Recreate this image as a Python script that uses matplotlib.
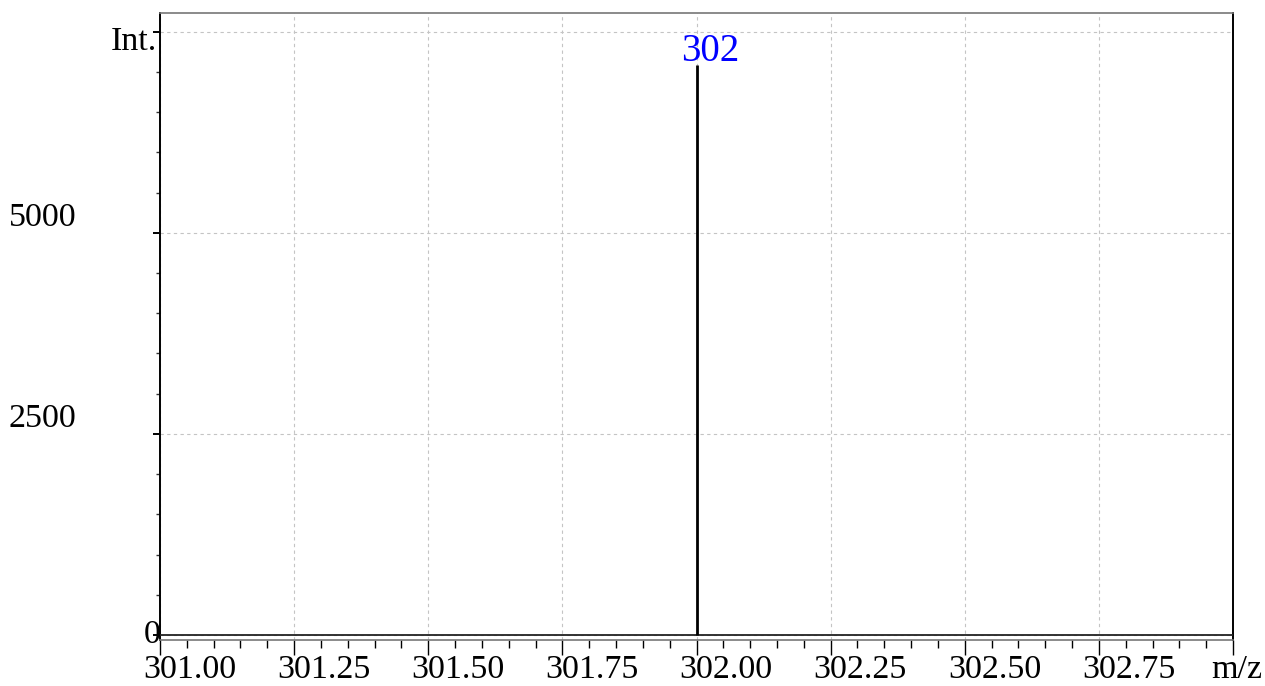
import matplotlib
matplotlib.use("Agg")
import matplotlib.pyplot as plt
import matplotlib.transforms as mtransforms
from matplotlib.ticker import MultipleLocator

# Spectrum data
peak_mz = [302.0]
peak_int = [7085]
peak_labels = ["302"]

x_range = (301.0, 303.0)
y_range = (-62, 7732)

x_ticks = [301.00, 301.25, 301.50, 301.75, 302.00, 302.25, 302.50, 302.75, 303.00]
x_tick_labels = ["301.00", "301.25", "301.50", "301.75", "302.00",
                 "302.25", "302.50", "302.75", "m/z"]
y_ticks = [0, 2500, 5000, 7500]
y_tick_labels = ["0", "2500", "5000", ""]

plt.rcParams["font.family"] = ["Liberation Serif", "DejaVu Serif"]

FS = 24.5

fig = plt.figure(figsize=(12.65, 6.86), dpi=100)
ax = fig.add_axes([160 / 1265, 1 - 640 / 686, (1233 - 160) / 1265, (640 - 13) / 686])

ax.set_xlim(*x_range)
ax.set_ylim(*y_range)

# Grid at major positions
ax.set_xticks(x_ticks)
ax.set_yticks(y_ticks)
ax.xaxis.set_minor_locator(MultipleLocator(0.05))
ax.yaxis.set_minor_locator(MultipleLocator(500))
ax.grid(True, which="major", color="#c4c4c4", linestyle=(0, (3, 3)), linewidth=0.8, zorder=0)
ax.set_axisbelow(True)

# Tick marks (labels drawn separately)
ax.tick_params(axis="x", which="major", direction="out", length=10.5, width=1.0, color="black",
               labelbottom=False, pad=0)
ax.tick_params(axis="x", which="minor", direction="out", length=6, width=1.0, color="black")
ax.tick_params(axis="y", which="major", direction="out", length=5, width=1.4, color="black",
               labelleft=False)
ax.tick_params(axis="y", which="minor", direction="out", length=3, width=1.0, color="#333333")

for side in ("left", "right"):
    ax.spines[side].set_color("black")
    ax.spines[side].set_linewidth(1.4)
for side in ("top", "bottom"):
    ax.spines[side].set_color("#777777")
    ax.spines[side].set_linewidth(1.2)

# Baseline and peaks
ax.axhline(0, color="#222222", linewidth=1.3, zorder=3)
ax.vlines(peak_mz, 0, peak_int, color="black", linewidth=2.0, zorder=4)

for mz, inten, lab in zip(peak_mz, peak_int, peak_labels):
    ax.annotate(lab, xy=(mz, inten), xytext=(10, -3.5), textcoords="offset points",
                ha="center", va="bottom", color="#0000ff", fontsize=28, zorder=5)

# X tick labels, left-aligned slightly before each tick; the last one kept inside the figure
xlab_tr = ax.get_xaxis_transform() + mtransforms.ScaledTranslation(-17 / 100, -15 / 100, fig.dpi_scale_trans)
last_tr = mtransforms.blended_transform_factory(fig.transFigure, ax.transAxes) + \
    mtransforms.ScaledTranslation(0, -15 / 100, fig.dpi_scale_trans)
for i, (xv, lab) in enumerate(zip(x_ticks, x_tick_labels)):
    if i == len(x_ticks) - 1:
        ax.text(1262 / 1265, 0, lab, transform=last_tr, ha="right", va="top", fontsize=FS, clip_on=False)
    else:
        ax.text(xv, 0, lab, transform=xlab_tr, ha="left", va="top", fontsize=FS, clip_on=False)

# Y tick labels
ylab_left = mtransforms.blended_transform_factory(fig.transFigure, ax.transData)
for yv, lab in zip(y_ticks, y_tick_labels):
    if not lab:
        continue
    if yv == 0:
        tr = ax.get_yaxis_transform() + mtransforms.ScaledTranslation(1 / 100, 0, fig.dpi_scale_trans)
        ax.text(0, yv, lab, transform=tr, ha="right", va="center", fontsize=FS, clip_on=False)
    else:
        tr = ylab_left + mtransforms.ScaledTranslation(0, 7 / 100, fig.dpi_scale_trans)
        ax.text(9 / 1265, yv, lab, transform=tr, ha="left", va="baseline", fontsize=FS, clip_on=False)

# Axis title at the top of the intensity axis
int_tr = ax.get_yaxis_transform() + mtransforms.ScaledTranslation(-3 / 100, -18 / 100, fig.dpi_scale_trans)
ax.text(0, 7500, "Int.", transform=int_tr, ha="right", va="baseline", fontsize=FS, clip_on=False)

fig.savefig("out.png", dpi=100, facecolor="white")
